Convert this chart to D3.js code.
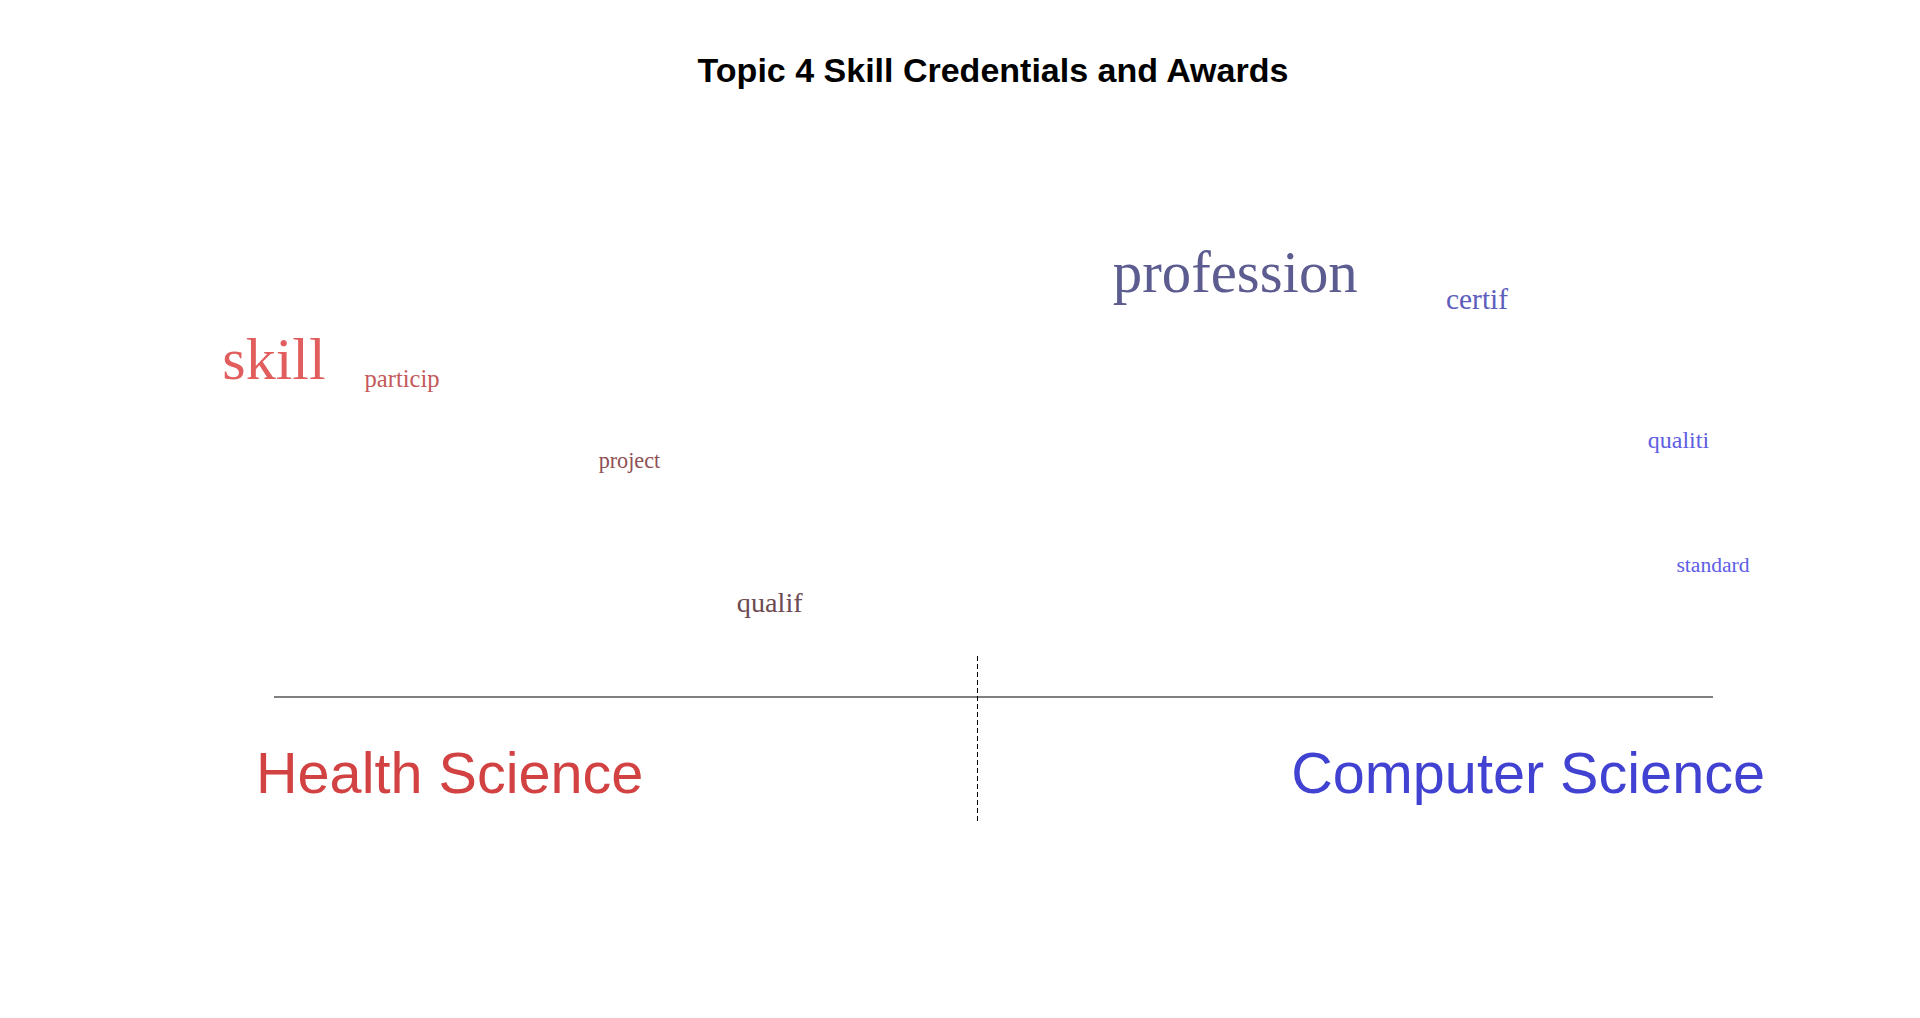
<!DOCTYPE html>
<html>
<head>
<meta charset="utf-8">
<script src="https://cdn.jsdelivr.net/npm/d3@7/dist/d3.min.js"></script>
<style>
  html, body { margin: 0; padding: 0; background: #ffffff; }
  svg { display: block; }
</style>
</head>
<body>
<script>
// ---- data ----
const title = "Topic 4 Skill Credentials and Awards";
const groups = ["Health Science", "Computer Science"];
const words = ["skill", "particip", "project", "qualif", "profession", "certif", "qualiti", "standard"];
// lean: -1 = Health Science, +1 = Computer Science
const lean = [-1, -0.822, -0.506, -0.311, 0.336, 0.672, 0.952, 1];
// vertical placement (0 = baseline axis, 1 = top of plotting area)
const height = [0.704, 0.662, 0.492, 0.196, 0.884, 0.829, 0.535, 0.275];
// relative word weight
const weight = [100, 41, 37, 47, 98, 49, 40, 36];
const divider = -0.023;

// ---- layout ----
const W = 1920, H = 1018;
const svg = d3.select("body").append("svg").attr("width", W).attr("height", H);

const x = d3.scaleLinear().domain([-1, 1]).range([274, 1713]);
const y = d3.scaleLinear().domain([0, 1]).range([697, 217]);
const size = d3.scaleLinear().domain([0, 100]).range([0, 60]);
const color = d3.scaleLinear()
  .domain([-1, -0.311, 0.336, 1])
  .range(["#e25e5e", "#6e4a52", "#5c5c90", "#5e5ee8"])
  .interpolate(d3.interpolateRgb);

// title
svg.append("text")
  .attr("x", 993).attr("y", 82)
  .attr("text-anchor", "middle")
  .style("font-family", "'Liberation Sans', Arial, Helvetica, sans-serif")
  .style("font-weight", "bold")
  .style("font-size", "34px")
  .attr("fill", "#000")
  .text(title);

// baseline axis
svg.append("line")
  .attr("x1", x(-1)).attr("x2", x(1))
  .attr("y1", y(0)).attr("y2", y(0))
  .attr("stroke", "#000").attr("stroke-width", 1);

// divider
svg.append("line")
  .attr("x1", Math.round(x(divider)) + 0.5).attr("x2", Math.round(x(divider)) + 0.5)
  .attr("y1", 656).attr("y2", 821)
  .attr("stroke", "#000").attr("stroke-width", 1)
  .attr("stroke-dasharray", "5,3");

// words
const data = words.map((w, i) => ({ w, lean: lean[i], h: height[i], wt: weight[i] }));
svg.append("g").selectAll("text").data(data).join("text")
  .attr("x", d => x(d.lean))
  .attr("y", d => y(d.h) + 0.33 * size(d.wt))
  .attr("text-anchor", "middle")
  .style("font-family", "'Liberation Serif', 'Times New Roman', Times, serif")
  .style("font-size", d => size(d.wt) + "px")
  .attr("fill", d => color(d.lean))
  .text(d => d.w);

// group labels
const labelFont = "'Liberation Sans', Arial, Helvetica, sans-serif";
svg.append("text")
  .attr("x", 256).attr("y", 793)
  .attr("text-anchor", "start")
  .style("font-family", labelFont).style("font-size", "57.6px")
  .attr("fill", "#d24242")
  .text(groups[0]);
svg.append("text")
  .attr("x", 1765).attr("y", 793)
  .attr("text-anchor", "end")
  .style("font-family", labelFont).style("font-size", "57.6px")
  .attr("fill", "#4242d2")
  .text(groups[1]);
</script>
</body>
</html>
